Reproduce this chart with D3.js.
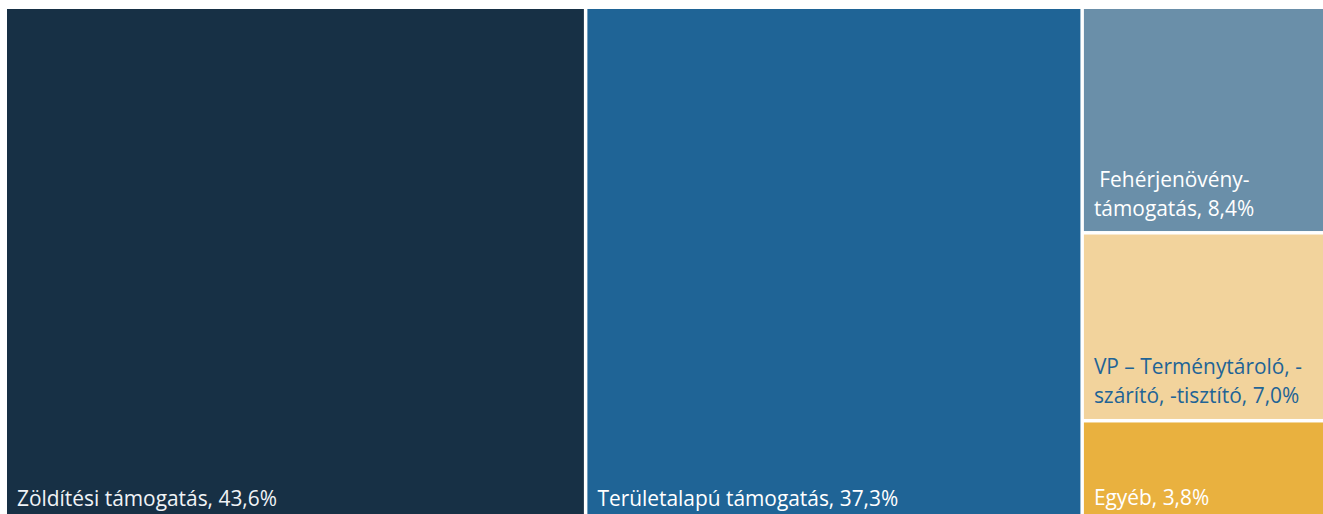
<!DOCTYPE html>
<html><head><meta charset="utf-8">
<script src="https://cdn.jsdelivr.net/npm/d3@7"></script>
<style>html,body{margin:0;padding:0;background:#fff;overflow:hidden}</style>
</head><body>
<svg id="chart" width="1323" height="514"></svg>
<script>
const categories = [" Fehérjenövény-\ntámogatás", "VP – Terménytároló, -\nszárító, -tisztító", "Egyéb", "Zöldítési támogatás", "Területalapú támogatás"];
const values = [8.4, 7.0, 3.8, 43.6, 37.3];
const labels = ["8,4%", "7,0%", "3,8%", "43,6%", "37,3%"];
const colors = ["#6a8fa9", "#f2d39c", "#e9b13f", "#173045", "#1f6496"];
const textColors = ["#ffffff", "#1f6496", "#ffffff", "#f0f3f6", "#ffffff"];

const svg = d3.select("#chart");
const data = {children: categories.map((c, i) => ({name: c, value: values[i], i}))};
const root = d3.hierarchy(data).sum(d => d.value || 0).sort((a, b) => b.value - a.value);
d3.treemap().tile(d3.treemapSquarify.ratio(1)).size([1329, 512]).paddingInner(3.5).round(false)(root);

const g = svg.append("g").attr("transform", "translate(7,9)");
const leaf = g.selectAll("g").data(root.leaves()).join("g")
  .attr("transform", d => `translate(${d.x0},${d.y0})`);
leaf.append("rect")
  .attr("width", d => d.x1 - d.x0).attr("height", d => d.y1 - d.y0)
  .attr("fill", d => colors[d.data.i]);
leaf.each(function(d) {
  const lines = (d.data.name + ", " + labels[d.data.i]).split("\n");
  const h = d.y1 - d.y0;
  const t = d3.select(this).append("text")
    .attr("font-family", "'Open Sans', sans-serif").attr("font-size", 20.9)
    .attr("fill", textColors[d.data.i]).attr("xml:space", "preserve");
  lines.forEach((l, k) => {
    t.append("tspan").attr("x", 10).attr("y", h - 15.5 - (lines.length - 1 - k) * 29).text(l);
  });
});
</script>
</body></html>
